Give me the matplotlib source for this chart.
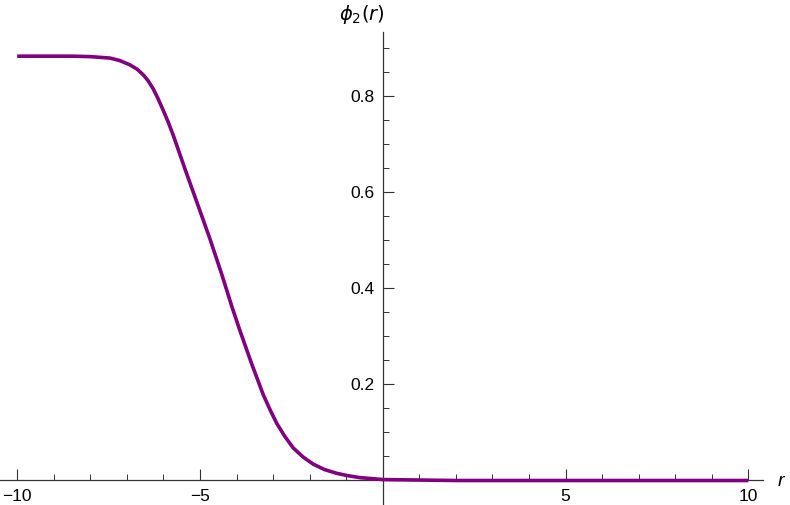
import matplotlib
matplotlib.use("Agg")
import matplotlib.pyplot as plt
from matplotlib.ticker import FixedLocator

r_vals = [-10.0, -9.0, -8.5, -8.0, -7.46, -7.2, -6.92, -6.72, -6.55, -6.42, -6.28, -6.15, -6.01,
          -5.87, -5.73, -5.41, -5.09, -4.73, -4.41, -4.13, -3.91, -3.59, -3.27, -3.08, -2.90,
          -2.68, -2.45, -2.18, -1.90, -1.60, -1.26, -0.95, -0.62, -0.30, 0.0, 1.0, 2.0, 4.0,
          6.0, 8.0, 10.0]
phi_vals = [0.883, 0.883, 0.883, 0.882, 0.879, 0.874, 0.865, 0.856, 0.844, 0.832, 0.815, 0.795, 0.771,
            0.746, 0.718, 0.648, 0.580, 0.503, 0.430, 0.362, 0.312, 0.243, 0.178, 0.146, 0.118,
            0.091, 0.067, 0.048, 0.033, 0.022, 0.014, 0.009, 0.005, 0.003, 0.001, 0.0, -0.001, -0.001,
            -0.001, -0.001, -0.001]

x_major = [-10, -5, 5, 10]
y_major = [0.2, 0.4, 0.6, 0.8]

plt.rcParams['font.family'] = ['Liberation Sans', 'DejaVu Sans']

W, H = 790, 505
fig = plt.figure(figsize=(W / 100, H / 100), dpi=100)
ax = fig.add_axes([0, 0, 1, 1])
ax.set_facecolor('none')

ax.plot(r_vals, phi_vals, color='#800080', lw=2.6, solid_capstyle='butt',
        solid_joinstyle='round', zorder=3)

ax.set_xlim(-10.47, 11.14)
ax.set_ylim(-0.052, 1.0)

for s in ['top', 'right']:
    ax.spines[s].set_visible(False)
ax.spines['bottom'].set_position(('data', 0))
ax.spines['left'].set_position(('data', 0))
ax.spines['bottom'].set_bounds(-10.47, 10.4)
ax.spines['left'].set_bounds(-0.052, 0.933)
for s in ['bottom', 'left']:
    ax.spines[s].set_color('#333333')
    ax.spines[s].set_linewidth(0.9)

ax.xaxis.set_major_locator(FixedLocator(x_major))
ax.xaxis.set_minor_locator(FixedLocator([v for v in range(-10, 11) if v not in (-10, -5, 0, 5, 10)]))
ax.yaxis.set_major_locator(FixedLocator(y_major))
ax.yaxis.set_minor_locator(FixedLocator([round(0.05 * k, 2) for k in range(1, 19) if k % 4 != 0]))

ax.tick_params(axis='x', which='major', direction='in', length=8, width=0.8, color='#333333',
               labelsize=12.5, pad=6.5)
ax.tick_params(axis='x', which='minor', direction='in', length=4.5, width=0.7, color='#333333')
ax.tick_params(axis='y', which='major', direction='in', length=8, width=0.8, color='#333333',
               labelsize=12.5, pad=6)
ax.tick_params(axis='y', which='minor', direction='in', length=4.5, width=0.7, color='#333333')

ax.set_xticklabels(['\u221210', '\u22125', '5', '10'])
ax.set_yticklabels(['0.2', '0.4', '0.6', '0.8'])

ax.text(781, H - 481, 'r', transform=None, fontsize=14, style='italic', ha='center', va='center')
ax.text(362, H - 14, r'$\phi_2(r)$', transform=None, fontsize=14, ha='center', va='center')

fig.savefig('out.png', dpi=100)
